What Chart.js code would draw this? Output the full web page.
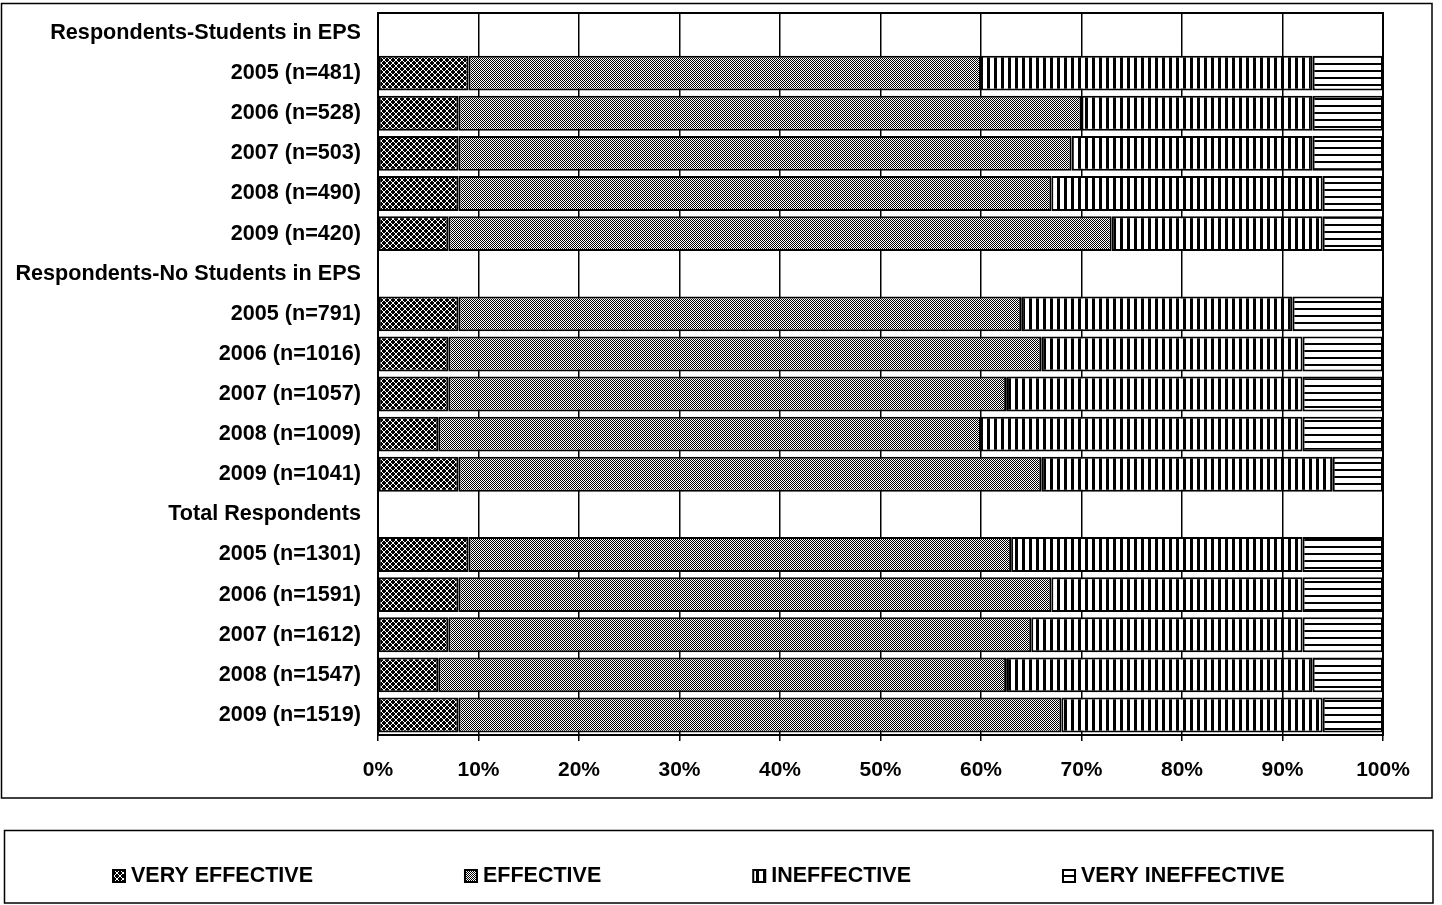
<!DOCTYPE html>
<html>
<head>
<meta charset="utf-8">
<script src="https://cdn.jsdelivr.net/npm/chart.js@4.4.0/dist/chart.umd.min.js"></script>
<style>
html,body{margin:0;padding:0;background:#fff;overflow:hidden;}
#wrap{position:absolute;left:0;top:0;width:1442px;height:905px;}
canvas{display:block;}
</style>
</head>
<body>
<div id="wrap"><canvas id="c" width="1442" height="905"></canvas></div>
<script>
// ---- DATA ----
const categories = [
  "Respondents-Students in EPS",
  "2005 (n=481)", "2006 (n=528)", "2007 (n=503)", "2008 (n=490)", "2009 (n=420)",
  "Respondents-No Students in EPS",
  "2005 (n=791)", "2006 (n=1016)", "2007 (n=1057)", "2008 (n=1009)", "2009 (n=1041)",
  "Total Respondents",
  "2005 (n=1301)", "2006 (n=1591)", "2007 (n=1612)", "2008 (n=1547)", "2009 (n=1519)"
];
const seriesNames = ["VERY EFFECTIVE", "EFFECTIVE", "INEFFECTIVE", "VERY INEFFECTIVE"];
const veryEffective   = [null, 9, 8, 8, 8, 7,  null, 8, 7, 7,    6,  8,  null, 9, 8, 7, 6,    8];
const effective       = [null, 51, 62, 61, 59, 66, null, 56, 59, 55.5, 54, 58, null, 54, 59, 58, 56.5, 60];
const ineffective     = [null, 33, 23, 24, 27, 21, null, 27, 26, 29.5, 32, 29, null, 29, 25, 27, 30.5, 26];
const veryIneffective = [null, 7, 7, 7, 6, 6,   null, 9, 8, 8,    8,  5,  null, 8, 8, 8, 7,    6];
const xTickValues = [0, 10, 20, 30, 40, 50, 60, 70, 80, 90, 100];

// ---- PATTERNS ----
function makePattern(w, h, draw) {
  const c = document.createElement('canvas');
  c.width = w; c.height = h;
  const g = c.getContext('2d');
  draw(g, w, h);
  return document.getElementById('c').getContext('2d').createPattern(c, 'repeat');
}
const patVeryEff = makePattern(6, 6, (g, w, h) => {
  g.fillStyle = '#000'; g.fillRect(0, 0, w, h);
  g.fillStyle = '#fff';
  for (let i = 0; i < 6; i++) { g.fillRect(i, i, 1, 1); g.fillRect(5 - i, i, 1, 1); }
});
const patEff = makePattern(2, 2, (g) => {
  g.fillStyle = '#fff'; g.fillRect(0, 0, 2, 2);
  g.fillStyle = '#000'; g.fillRect(0, 0, 1, 1); g.fillRect(1, 1, 1, 1);
});
const patInEff = makePattern(7, 7, (g, w, h) => {
  g.fillStyle = '#fff'; g.fillRect(0, 0, w, h);
  g.fillStyle = '#000'; g.fillRect(0, 0, 3, h);
});
const patVeryInEff = makePattern(7, 7, (g, w, h) => {
  g.fillStyle = '#fff'; g.fillRect(0, 0, w, h);
  g.fillStyle = '#000'; g.fillRect(0, 0, w, 2);
});
const patterns = [patVeryEff, patEff, patInEff, patVeryInEff];
const seriesData = [veryEffective, effective, ineffective, veryIneffective];

const FONT = '"Liberation Sans", Arial, Helvetica, sans-serif';

// ---- PLUGINS ----
const framePlugin = {
  id: 'frame',
  beforeDraw(chart) {
    const ctx = chart.ctx;
    ctx.save();
    ctx.fillStyle = '#fff';
    ctx.fillRect(0, 0, chart.width, chart.height);
    ctx.strokeStyle = '#000';
    ctx.lineWidth = 1.5;
    ctx.strokeRect(1.5, 3.5, 1430.5, 794.5);
    ctx.strokeRect(4.5, 830.5, 1428.5, 72.5);
    ctx.restore();
  },
  afterDatasetsDraw(chart) {
    const ctx = chart.ctx, a = chart.chartArea;
    ctx.save();
    ctx.strokeStyle = '#000';
    ctx.lineWidth = 2;
    ctx.strokeRect(a.left, a.top, a.right - a.left, a.bottom - a.top);
    ctx.restore();
  },
  afterDraw(chart) {
    const ctx = chart.ctx;
    ctx.save();
    ctx.font = 'bold 21.5px ' + FONT;
    ctx.textBaseline = 'middle';
    ctx.fillStyle = '#000';
    let x = 112;
    const cy = 876;
    chart.data.datasets.forEach((ds) => {
      ctx.fillStyle = ds.backgroundColor;
      ctx.fillRect(x, cy - 7, 14, 14);
      ctx.strokeStyle = '#000';
      ctx.lineWidth = 2;
      ctx.strokeRect(x + 1, cy - 6, 12, 12);
      ctx.fillStyle = '#000';
      ctx.fillText(ds.label, x + 19, cy);
      x += 19 + ctx.measureText(ds.label).width + 151;
    });
    ctx.restore();
  }
};

new Chart(document.getElementById('c'), {
  type: 'bar',
  data: {
    labels: categories,
    datasets: seriesNames.map((name, i) => ({
      label: name,
      data: seriesData[i],
      backgroundColor: patterns[i],
      borderColor: '#000',
      borderWidth: 2,
      borderSkipped: false,
      barPercentage: 0.87,
      categoryPercentage: 1.0
    }))
  },
  options: {
    indexAxis: 'y',
    responsive: false,
    animation: false,
    devicePixelRatio: 1,
    layout: { padding: { left: 0, top: 13, right: 59, bottom: 107 } },
    plugins: {
      legend: { display: false },
      tooltip: { enabled: false },
      title: { display: false }
    },
    scales: {
      x: {
        type: 'linear',
        stacked: true,
        min: 0,
        max: 100,
        afterBuildTicks(scale) { scale.ticks = xTickValues.map(v => ({ value: v })); },
        afterFit(scale) { scale.height = 63; scale.paddingLeft = 0; scale.paddingRight = 0; },
        ticks: {
          callback: (v) => v + '%',
          color: '#000',
          font: { family: FONT, size: 21, weight: 'bold' },
          padding: 17,
          maxRotation: 0,
          autoSkip: false
        },
        grid: { color: '#000', lineWidth: 1.5, tickLength: 6, drawTicks: true },
        border: { display: true, color: '#000', width: 2 }
      },
      y: {
        type: 'category',
        stacked: true,
        afterFit(scale) { scale.width = 378; scale.paddingTop = 0; scale.paddingBottom = 0; },
        ticks: {
          color: '#000',
          font: { family: FONT, size: 21.6, weight: 'bold' },
          padding: 17,
          autoSkip: false
        },
        grid: { display: false, drawTicks: false },
        border: { display: true, color: '#000', width: 2 }
      }
    }
  },
  plugins: [framePlugin]
});
</script>
</body>
</html>
